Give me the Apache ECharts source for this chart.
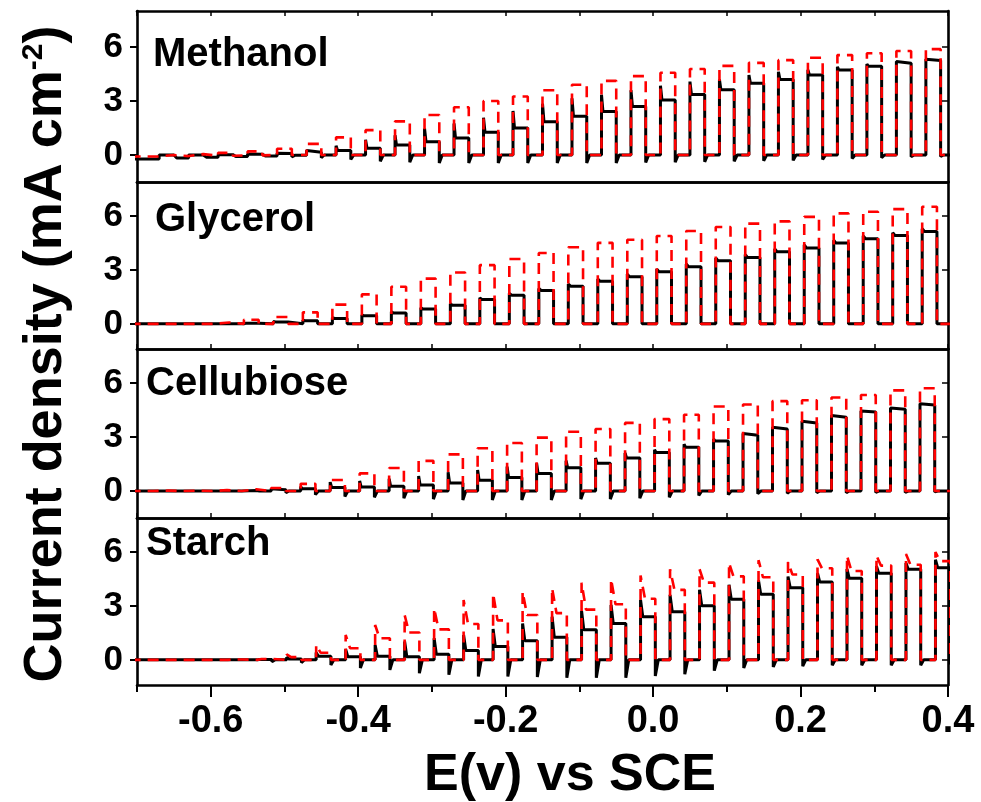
<!DOCTYPE html>
<html><head><meta charset="utf-8">
<script src="https://cdn.jsdelivr.net/npm/echarts@6/dist/echarts.min.js"></script>
<style>html,body{margin:0;padding:0;background:#fff}#c{width:981px;height:802px}</style>
</head><body><div id="c"></div><script>
// ---------------- data ----------------
const panelNames = ['Methanol', 'Glycerol', 'Cellubiose', 'Starch'];
const xTickLabels = [-0.6, -0.4, -0.2, 0.0, 0.2, 0.4];
const yTickLabels = [0, 3, 6];

// potentials (V vs SCE) where the light is switched on, per panel
const onMethanol = [-0.67,-0.63,-0.59,-0.55,-0.51,-0.47,-0.43,-0.39,-0.35,-0.31,-0.27,-0.23,-0.19,-0.15,-0.11,-0.07,-0.03,0.01,0.05,0.09,0.13,0.17,0.21,0.25,0.29,0.33,0.37];
const onGlycerol = [-0.675,-0.635,-0.595,-0.555,-0.515,-0.475,-0.435,-0.395,-0.355,-0.315,-0.275,-0.235,-0.195,-0.155,-0.115,-0.075,-0.035,0.005,0.045,0.085,0.125,0.165,0.205,0.245,0.285,0.325,0.365];
const onCellubiose = [-0.678,-0.638,-0.598,-0.558,-0.518,-0.478,-0.438,-0.398,-0.358,-0.318,-0.278,-0.238,-0.198,-0.158,-0.118,-0.078,-0.038,0.002,0.042,0.082,0.122,0.162,0.202,0.242,0.282,0.322,0.362];
const onStarch = [-0.657,-0.617,-0.577,-0.537,-0.497,-0.457,-0.417,-0.377,-0.337,-0.297,-0.257,-0.217,-0.177,-0.137,-0.097,-0.057,-0.017,0.023,0.063,0.103,0.143,0.183,0.223,0.263,0.303,0.343,0.383];
const lightOnWidth = 0.02; // V, duration of each illuminated interval

// Methanol (mA cm-2)
const mBlackSpike = [0,0,0.02,0.05,0.1,0.25,0.52,0.85,1.1,1.47,1.75,2.07,2.45,2.85,3.15,3.35,3.6,3.85,4.08,4.2,4.45,4.62,4.73,4.9,5.05,5.2,5.32];
const mBlackPlat  = [0,0,0.02,0.04,0.08,0.15,0.25,0.38,0.55,0.74,0.95,1.27,1.5,1.85,2.15,2.42,2.7,3.06,3.36,3.62,3.98,4.2,4.45,4.72,4.93,5.1,5.25];
const mBlackDip   = [0,0,-0.02,-0.05,-0.1,-0.15,-0.25,-0.35,-0.4,-0.45,-0.45,-0.45,-0.45,-0.45,-0.45,-0.45,-0.42,-0.4,-0.38,-0.35,-0.32,-0.3,-0.25,-0.2,-0.15,-0.1,-0.08];
const mBlackBase  = [-0.22,-0.17,-0.12,-0.08,-0.05,-0.02,0,0,0,0,0,0,0,0,0,0,0,0,0,0,0,0,0,0,0,0,0];
const mRedTop     = [0,0.05,0.12,0.2,0.35,0.62,0.98,1.38,1.87,2.22,2.65,3.0,3.25,3.6,3.9,4.12,4.38,4.57,4.78,4.95,5.12,5.27,5.4,5.55,5.65,5.78,5.88];
const mRedBase    = [-0.08,-0.06,-0.04,-0.02,0,0,0,0,0,0,0,0,0,0,0,0,0,0,0,0,0,0,0,0,0,0,0];

// Glycerol
const gBlackSpike = [0,0,0,0.05,0.13,0.2,0.34,0.5,0.67,0.9,1.12,1.45,1.7,1.97,2.22,2.5,2.77,3.05,3.33,3.67,3.86,4.18,4.4,4.66,4.9,5.08,5.3];
const gBlackPlat  = [0,0,0,0.04,0.11,0.17,0.3,0.45,0.6,0.83,1.03,1.35,1.6,1.86,2.1,2.37,2.63,2.9,3.18,3.52,3.7,4.02,4.23,4.5,4.74,4.92,5.15];
const gBlackDip   = [0,0,0,0,0,0,0,0,0,0,0,0,0,0,0,0,0,0,0,0,0,0,0,0,0,0,0];
const gBlackBase  = [0,0,0,0,0,0,0,0,0,0,0,0,0,0,0,0,0,0,0,0,0,0,0,0,0,0,0];
const gRedTop     = [0,0,0.08,0.23,0.38,0.64,1.07,1.64,2.07,2.52,2.86,3.27,3.61,3.95,4.27,4.51,4.68,4.89,5.17,5.39,5.58,5.71,5.96,6.15,6.24,6.39,6.52];
const gRedBase    = [0,0,0,0,0,0,0,0,0,0,0,0,0,0,0,0,0,0,0,0,0,0,0,0,0,0,0];

// Cellubiose
const cBlackSpike = [0,0,0.02,0.05,0.12,0.25,0.5,0.56,0.68,0.83,1.05,1.17,1.36,1.55,1.69,1.84,2.12,2.3,2.6,2.9,3.2,3.55,3.88,4.2,4.45,4.62,4.85];
const cBlackPlat  = [0,0,0,0.03,0.07,0.12,0.2,0.22,0.26,0.33,0.45,0.6,0.75,0.98,1.3,1.55,1.84,2.15,2.44,2.78,3.1,3.45,3.79,4.11,4.39,4.55,4.78];
const cBlackDip   = [0,0,0,-0.05,-0.1,-0.2,-0.3,-0.35,-0.4,-0.45,-0.5,-0.5,-0.5,-0.5,-0.45,-0.45,-0.4,-0.35,-0.25,-0.2,-0.15,-0.12,-0.1,-0.1,-0.08,-0.08,-0.05];
const cBlackBase  = [0,0,0,0,0,0,0,0,0,0,0,0,0,0,0,0,0,0,0,0,0,0,0,0,0,0,0];
const cRedTop     = [0.02,0.02,0.05,0.1,0.17,0.4,0.61,0.98,1.28,1.68,2.04,2.38,2.67,2.97,3.3,3.45,3.79,4.0,4.24,4.7,4.81,5.0,5.05,5.2,5.34,5.6,5.72];
const cRedBase    = [0,0,0,0,0,0,0,0,0,0,0,0,0,0,0,0,0,0,0,0,0,0,0,0,0,0,0];

// Starch
const sBlackSpike = [0,0,0.02,0.05,0.15,0.41,0.59,0.83,1.02,1.2,1.38,1.72,2.03,2.4,2.72,3.06,3.34,3.62,3.9,4.18,4.42,4.64,4.83,5.06,5.22,5.39,5.58];
const sBlackPlat  = [0,0,0,0.02,0.05,0.2,0.17,0.2,0.17,0.31,0.52,0.74,1.07,1.26,1.68,2.02,2.4,2.68,3.01,3.38,3.66,4.01,4.34,4.54,4.83,5.04,5.13];
const sBlackDip   = [0,0,-0.05,-0.1,-0.15,-0.28,-0.46,-0.56,-0.74,-0.83,-0.93,-0.93,-0.95,-1.0,-1.0,-1.0,-0.9,-0.8,-0.6,-0.45,-0.4,-0.35,-0.3,-0.3,-0.3,-0.3,-0.25];
const sBlackBase  = [0,0,0,0,0,0,0,0,0,0,0,0,0,0,0,0,0,0,0,0,0,0,0,0,0,0,0];
const sRedSpike   = [0,0,0.05,0.1,0.3,0.83,1.39,1.94,2.5,2.87,3.33,3.7,3.8,4.0,4.3,4.5,4.7,5.05,5.05,5.4,5.55,5.45,5.6,5.8,5.8,5.9,6.0];
const sRedPlat    = [0,0,0.02,0.05,0.15,0.4,0.65,1.2,1.52,1.7,2.0,2.2,2.5,2.6,2.8,3.1,3.4,3.9,4.3,4.65,4.6,4.75,5.1,4.95,5.25,5.3,5.5];
const sRedBase    = [0,0,0,0,0,0,0,0,0,0,0,0,0,0,0,0,0,0,0,0,0,0,0,0,0,0,0];

// ---------------- chart ----------------
const E_MIN = -0.7, E_MAX = 0.4;
const FONT = '"Liberation Sans", Arial, Helvetica, sans-serif';

// build a chopped-light trace from per-cycle readings
function trace(on, spike, plat, dip, base, decay, recover) {
  const pts = [[E_MIN - 0.01, base[0]]];
  for (let k = 0; k < on.length; k++) {
    const t0 = on[k], t1 = on[k] + lightOnWidth;
    const nb = k + 1 < base.length ? base[k + 1] : base[k];
    pts.push([t0, base[k]], [t0, spike[k]], [t0 + decay, plat[k]], [t1, plat[k]], [t1, dip[k]], [t1 + recover, nb]);
  }
  pts.push([E_MAX + 0.02, base[base.length - 1]]);
  return pts;
}

const panels = [
  { black: trace(onMethanol, mBlackSpike, mBlackPlat, mBlackDip, mBlackBase, 0.002, 0.004),
    red: trace(onMethanol, mRedTop, mRedTop, mRedBase, mRedBase, 0.002, 0.002) },
  { black: trace(onGlycerol, gBlackSpike, gBlackPlat, gBlackDip, gBlackBase, 0.003, 0.002),
    red: trace(onGlycerol, gRedTop, gRedTop, gRedBase, gRedBase, 0.002, 0.002) },
  { black: trace(onCellubiose, cBlackSpike, cBlackPlat, cBlackDip, cBlackBase, 0.002, 0.004),
    red: trace(onCellubiose, cRedTop, cRedTop, cRedBase, cRedBase, 0.002, 0.002) },
  { black: trace(onStarch, sBlackSpike, sBlackPlat, sBlackDip, sBlackBase, 0.003, 0.004),
    red: trace(onStarch, sRedSpike, sRedPlat, sRedBase, sRedBase, 0.006, 0.002) }
];

const tops = [11, 182, 349, 518];
const heights = [171, 167, 169, 167];
const yMins = [-1.5, -1.4, -1.5, -1.4];
const yMaxs = [8, 7.9, 7.9, 7.9];
const labelPos = [[153, 57], [155, 222], [146, 386], [146, 546]];

const grids = [], xAxes = [], yAxes = [], series = [], graphics = [];
const lineW = 2.6;
for (let i = 0; i < 4; i++) {
  grids.push({ left: 137, width: 811, top: tops[i], height: heights[i], containLabel: false });
  const last = i === 3;
  xAxes.push({
    type: 'value', gridIndex: i, position: 'bottom', min: E_MIN, max: E_MAX,
    axisLine: { show: true, onZero: false, lineStyle: { color: '#000', width: lineW } },
    axisTick: last
      ? { show: true, inside: false, length: 12, customValues: xTickLabels, lineStyle: { color: '#000', width: 2 } }
      : { show: i > 0, inside: true, length: 5, lineStyle: { color: '#000', width: 1.5 } },
    interval: 0.1,
    axisLabel: last
      ? { show: true, customValues: xTickLabels, formatter: v => Number(v).toFixed(1), margin: 18,
          fontFamily: FONT, fontWeight: 'bold', fontSize: 38, color: '#000' }
      : { show: false },
    splitLine: { show: false }
  });
  xAxes.push({
    type: 'value', gridIndex: i, position: 'top', min: E_MIN, max: E_MAX, interval: 0.1,
    axisLine: { show: true, onZero: false, lineStyle: { color: '#000', width: lineW } },
    axisTick: { show: i === 0, inside: true, length: 5, lineStyle: { color: '#000', width: 1.5 } },
    axisLabel: { show: false }, splitLine: { show: false }
  });
  yAxes.push({
    type: 'value', gridIndex: i, position: 'left', min: yMins[i], max: yMaxs[i],
    axisLine: { show: true, onZero: false, lineStyle: { color: '#000', width: lineW } },
    axisTick: { show: true, inside: false, length: 7, customValues: yTickLabels, lineStyle: { color: '#000', width: 2 } },
    axisLabel: { show: true, customValues: yTickLabels, margin: 14, fontFamily: FONT, fontWeight: 'bold', fontSize: 35, color: '#000' },
    splitLine: { show: false }
  });
  yAxes.push({
    type: 'value', gridIndex: i, position: 'right', min: yMins[i], max: yMaxs[i],
    axisLine: { show: true, onZero: false, lineStyle: { color: '#000', width: lineW } },
    axisTick: { show: true, inside: true, length: 6, customValues: yTickLabels, lineStyle: { color: '#000', width: 1.5 } },
    axisLabel: { show: false }, splitLine: { show: false }
  });
  series.push({
    type: 'line', xAxisIndex: 2 * i, yAxisIndex: 2 * i, data: panels[i].black, symbol: 'none',
    lineStyle: { color: '#000', width: 3 }, z: 3, silent: true, clip: true
  });
  series.push({
    type: 'line', xAxisIndex: 2 * i, yAxisIndex: 2 * i, data: panels[i].red, symbol: 'none',
    lineStyle: { color: '#ff0000', width: 2.6, type: [11, 7] }, z: 4, silent: true, clip: true
  });
  graphics.push({
    type: 'text', left: labelPos[i][0], top: labelPos[i][1] - 22,
    style: { text: panelNames[i], font: 'bold 40px ' + FONT, fill: '#000' }, z: 10
  });
}
xAxes.push({
  type: 'value', gridIndex: 3, position: 'bottom', min: E_MIN, max: E_MAX, interval: 0.1,
  axisLine: { show: false, onZero: false },
  axisTick: { show: true, inside: false, length: 7, lineStyle: { color: '#000', width: 2 } },
  axisLabel: { show: false }, splitLine: { show: false }
});

graphics.push({
  type: 'text', x: 46, y: 354, rotation: Math.PI / 2,
  style: {
    text: '{a|Current density (mA cm}{s|-2}{a|)}', align: 'center', verticalAlign: 'middle',
    rich: {
      a: { fontFamily: FONT, fontWeight: 'bold', fontSize: 54, fill: '#000', color: '#000' },
      s: { fontFamily: FONT, fontWeight: 'bold', fontSize: 30, fill: '#000', color: '#000', verticalAlign: 'top' }
    }
  }, z: 10
});
graphics.push({
  type: 'text', x: 570, y: 776,
  style: { text: 'E(v) vs SCE', font: 'bold 52px ' + FONT, fill: '#000', align: 'center', verticalAlign: 'middle' }, z: 10
});

const chart = echarts.init(document.getElementById('c'));
chart.setOption({
  animation: false, backgroundColor: '#fff',
  grid: grids, xAxis: xAxes, yAxis: yAxes, series: series, graphic: graphics
});
</script></body></html>
